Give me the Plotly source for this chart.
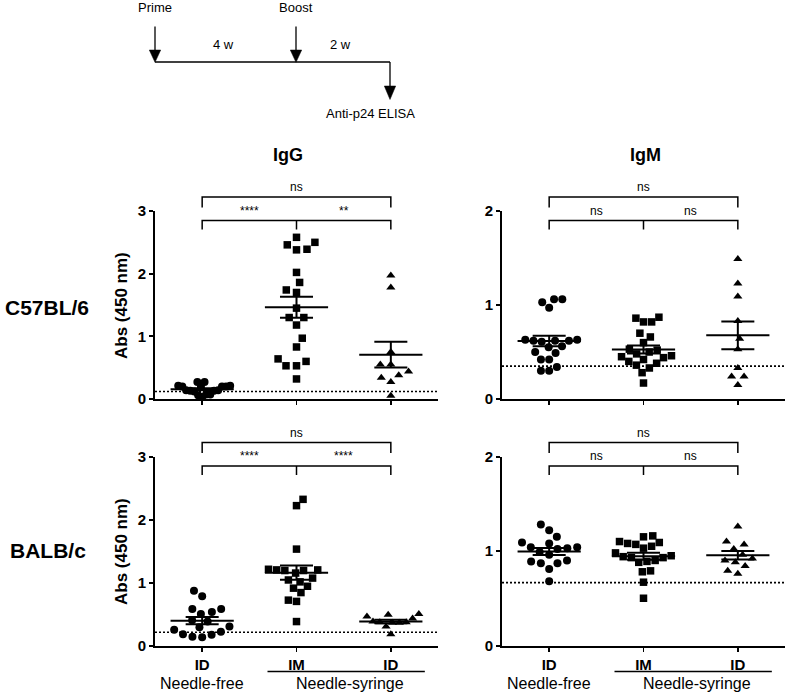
import math
import numpy as np
import plotly.graph_objects as go

W, H = 787, 693
FONT = "Liberation Sans, Arial, Helvetica, sans-serif"

# ---------------- data ----------------
categories = ["ID", "IM", "ID"]
route_groups = ["Needle-free", "Needle-syringe"]
isotypes = ["IgG", "IgM"]
strains = ["C57BL/6", "BALB/c"]
y_axis_title = "Abs (450 nm)"

# IgG, C57BL/6
igg_c57_nf_id = [0.27, 0.27, 0.21, 0.21, 0.20, 0.20, 0.20, 0.19,
                 0.14, 0.14, 0.13, 0.13, 0.12, 0.07, 0.07, 0.06, 0.03]
igg_c57_ns_im = [2.58, 2.50, 2.46, 2.39, 2.38, 2.02, 1.86, 1.74, 1.70, 1.45,
                 1.30, 1.30, 1.18, 0.97, 0.83, 0.64, 0.60, 0.53, 0.53, 0.32]
igg_c57_ns_id = [1.97, 1.78, 0.75, 0.55, 0.55, 0.44, 0.38, 0.34, 0.27, 0.05]
# IgM, C57BL/6
igm_c57_nf_id = [1.06, 1.06, 1.03, 0.97, 0.63, 0.63, 0.62, 0.62, 0.62, 0.61,
                 0.56, 0.55, 0.50, 0.49, 0.42, 0.42, 0.34, 0.30, 0.30]
igm_c57_ns_im = [0.87, 0.86, 0.82, 0.82, 0.70, 0.66, 0.60, 0.53, 0.52, 0.50,
                 0.48, 0.46, 0.45, 0.44, 0.42, 0.40, 0.38, 0.36, 0.33, 0.28, 0.17]
igm_c57_ns_id = [1.49, 1.23, 1.09, 0.83, 0.64, 0.53, 0.33, 0.24, 0.24, 0.15]
# IgG, BALB/c
igg_balb_nf_id = [0.87, 0.78, 0.58, 0.58, 0.53, 0.50, 0.40, 0.38, 0.30, 0.29,
                  0.25, 0.22, 0.18, 0.17, 0.14, 0.13]
igg_balb_ns_im = [2.32, 2.22, 1.53, 1.21, 1.20, 1.20, 1.19, 1.19, 1.15, 1.07,
                  1.04, 1.01, 0.94, 0.91, 0.84, 0.72, 0.70, 0.38]
igg_balb_ns_id = [0.50, 0.49, 0.46, 0.43, 0.38, 0.37, 0.37, 0.36, 0.36, 0.30, 0.18]
# IgM, BALB/c
igm_balb_nf_id = [1.28, 1.22, 1.15, 1.09, 1.08, 1.04, 1.04, 1.03, 1.02, 0.99,
                  0.96, 0.90, 0.89, 0.87, 0.87, 0.81, 0.68]
igm_balb_ns_im = [1.16, 1.15, 1.10, 1.09, 1.08, 1.07, 1.05, 1.03, 0.98, 0.95,
                  0.94, 0.93, 0.93, 0.90, 0.89, 0.88, 0.79, 0.78, 0.67, 0.50]
igm_balb_ns_id = [1.26, 1.10, 1.07, 1.02, 0.96, 0.92, 0.90, 0.88, 0.84, 0.79, 0.76]

# cut-off values (dotted lines)
cutoff_igg_c57 = 0.12
cutoff_igm_c57 = 0.35
cutoff_igg_balb = 0.21
cutoff_igm_balb = 0.665

# significance labels: [ID vs IM, IM vs ID, ID vs ID]
sig_igg_c57 = ["****", "**", "ns"]
sig_igm_c57 = ["ns", "ns", "ns"]
sig_igg_balb = ["****", "****", "ns"]
sig_igm_balb = ["ns", "ns", "ns"]

y_max_igg = 3
y_max_igm = 2

# timeline text
timeline_labels = ["Prime", "Boost", "Anti-p24 ELISA"]
interval_labels = ["4 w", "2 w"]

# ---------------- layout geometry (pixels) ----------------
panels = [
    dict(values=[igg_c57_nf_id, igg_c57_ns_im, igg_c57_ns_id], cutoff=cutoff_igg_c57,
         sig=sig_igg_c57, ymax=y_max_igg, xpx=(155, 438), ypx=(399, 211), bottom=False),
    dict(values=[igm_c57_nf_id, igm_c57_ns_im, igm_c57_ns_id], cutoff=cutoff_igm_c57,
         sig=sig_igm_c57, ymax=y_max_igm, xpx=(502, 785), ypx=(399, 211), bottom=False),
    dict(values=[igg_balb_nf_id, igg_balb_ns_im, igg_balb_ns_id], cutoff=cutoff_igg_balb,
         sig=sig_igg_balb, ymax=y_max_igg, xpx=(155, 438), ypx=(645.5, 456.5), bottom=True),
    dict(values=[igm_balb_nf_id, igm_balb_ns_im, igm_balb_ns_id], cutoff=cutoff_igm_balb,
         sig=sig_igm_balb, ymax=y_max_igm, xpx=(502, 785), ypx=(645.5, 456.5), bottom=True),
]
symbols = ["circle", "square", "triangle-up"]
sizes = [8, 7.5, 8]


def PX(x):
    return x / W


def PY(y):
    return 1 - y / H


def swarm(vals, ppu, ppc, D=10.5, max_half=28.0):
    """Collision-based beeswarm (ascending priority); offsets in category units."""
    n = len(vals)
    ys = [v * ppu for v in vals]
    order = sorted(range(n), key=lambda i: vals[i])
    placed = []
    xs = [0.0] * n
    last_sign = 1
    for i in order:
        y = ys[i]
        near = [(px, py) for (px, py) in placed if abs(py - y) < D]
        cands = [0.0]
        for px, py in near:
            dx = math.sqrt(D * D - (py - y) ** 2)
            cands += [px + dx, px - dx]
        cands.sort(key=lambda c: (round(abs(c), 3), c * last_sign))
        for c in cands:
            if all((c - px) ** 2 + (y - py) ** 2 >= D * D - 1e-6 for px, py in near):
                xs[i] = c
                break
        if xs[i] != 0:
            last_sign = 1 if xs[i] > 0 else -1
        placed.append((xs[i], y))
    m = max(abs(x) for x in xs)
    if m > max_half:
        xs = [x * max_half / m for x in xs]
    return [x / ppc for x in xs]


def label(x, y, text, font, **kw):
    d = dict(x=PX(x), y=PY(y), xref="paper", yref="paper", text=text, showarrow=False,
             xanchor="center", yanchor="middle", font=font, borderpad=0)
    d.update(kw)
    return d


fig = go.Figure()
shapes = []
annotations = []
layout_axes = {}
LINE = dict(color="black", width=2)

for k, pn in enumerate(panels):
    idx = k + 1
    xa = "x" if idx == 1 else f"x{idx}"
    ya = "y" if idx == 1 else f"y{idx}"
    x0, x1 = pn["xpx"]
    ybot, ytop = pn["ypx"]
    ppu = (ybot - ytop) / pn["ymax"]
    ppc = (x1 - x0) / 3.0

    for g, vals in enumerate(pn["values"]):
        offs = swarm(vals, ppu, ppc)
        fig.add_trace(go.Scatter(
            x=[g + o for o in offs], y=vals, mode="markers",
            marker=dict(symbol=symbols[g], size=sizes[g], color="black", line=dict(width=0)),
            xaxis=xa, yaxis=ya, cliponaxis=False, showlegend=False, hoverinfo="skip"))
        arr = np.array(vals)
        m = arr.mean()
        sem = arr.std(ddof=1) / np.sqrt(len(arr))
        shapes += [
            dict(type="line", xref=xa, yref=ya, x0=g - 0.335, x1=g + 0.335, y0=m, y1=m, line=LINE),
            dict(type="line", xref=xa, yref=ya, x0=g - 0.175, x1=g + 0.175, y0=m + sem, y1=m + sem, line=LINE),
            dict(type="line", xref=xa, yref=ya, x0=g - 0.175, x1=g + 0.175, y0=m - sem, y1=m - sem, line=LINE),
            dict(type="line", xref=xa, yref=ya, x0=g, x1=g, y0=m - sem, y1=m + sem, line=LINE),
        ]
    # cutoff dotted line
    shapes.append(dict(type="line", xref=xa, yref=ya, x0=-0.5, x1=2.5, y0=pn["cutoff"], y1=pn["cutoff"],
                       line=dict(color="black", width=1.6, dash="2px,2px")))

    # axes
    layout_axes["xaxis" if idx == 1 else f"xaxis{idx}"] = dict(
        domain=[PX(x0), PX(x1)], range=[-0.5, 2.5], anchor=ya,
        tickvals=[0, 1, 2], ticktext=categories, showticklabels=pn["bottom"],
        ticks="outside", ticklen=4, tickwidth=1.5, tickcolor="black",
        showline=True, linecolor="black", linewidth=2, showgrid=False, zeroline=False,
        tickfont=dict(family=FONT, size=15, color="black", weight="bold"), fixedrange=True)
    layout_axes["yaxis" if idx == 1 else f"yaxis{idx}"] = dict(
        domain=[PY(ybot), PY(ytop)], range=[0, pn["ymax"]], anchor=xa,
        tickvals=list(range(pn["ymax"] + 1)),
        ticks="outside", ticklen=4, tickwidth=2, tickcolor="black",
        showline=True, linecolor="black", linewidth=2, showgrid=False, zeroline=False,
        tickfont=dict(family=FONT, size=15, color="black", weight="bold"), fixedrange=True)

    # significance brackets (paper coords)
    cx = [x0 + (c + 0.5) * ppc for c in range(3)]
    top_line, top_tick = ytop - 14, ytop - 3.5
    low_line, low_tick = ytop + 9.5, ytop + 18.5
    BL = dict(color="black", width=1.5)
    shapes += [
        dict(type="path", xref="paper", yref="paper",
             path=f"M {PX(cx[0])} {PY(top_tick)} L {PX(cx[0])} {PY(top_line)} L {PX(cx[2])} {PY(top_line)} L {PX(cx[2])} {PY(top_tick)}",
             line=BL),
        dict(type="path", xref="paper", yref="paper",
             path=f"M {PX(cx[0])} {PY(low_tick)} L {PX(cx[0])} {PY(low_line)} L {PX(cx[2])} {PY(low_line)} L {PX(cx[2])} {PY(low_tick)}",
             line=BL),
        dict(type="line", xref="paper", yref="paper", x0=PX(cx[1]), x1=PX(cx[1]),
             y0=PY(low_line), y1=PY(low_tick), line=BL),
    ]
    lab_font = dict(family=FONT, size=12, color="black")
    annotations += [
        label((cx[0] + cx[1]) / 2, low_line - 2, pn["sig"][0], lab_font, yanchor="bottom"),
        label((cx[1] + cx[2]) / 2, low_line - 2, pn["sig"][1], lab_font, yanchor="bottom"),
        label(cx[1], top_line - 2, pn["sig"][2], lab_font, yanchor="bottom"),
    ]

    # route group labels under bottom panels
    if pn["bottom"]:
        lx0, lx1 = cx[1] - 29, cx[2] + 34
        shapes.append(dict(type="line", xref="paper", yref="paper", x0=PX(lx0), x1=PX(lx1),
                           y0=PY(671.5), y1=PY(671.5), line=dict(color="black", width=1.3)))
        gfont = dict(family=FONT, size=16, color="black")
        annotations += [
            label(cx[0], 683, route_groups[0], gfont),
            label((lx0 + lx1) / 2 + 4, 683, route_groups[1], gfont),
        ]

# headers, row labels, y-axis titles
hfont = dict(family=FONT, size=18, color="black", weight="bold")
annotations += [label(288, 155, isotypes[0], hfont), label(645, 155, isotypes[1], hfont)]
rfont = dict(family=FONT, size=21, color="black", weight="bold")
annotations += [label(47, 307, strains[0], rfont), label(48, 550, strains[1], rfont)]
tfont = dict(family=FONT, size=17, color="black", weight="bold")
annotations += [label(121, 305, y_axis_title, tfont, textangle=-90),
                label(121, 551, y_axis_title, tfont, textangle=-90)]

# timeline schematic
TL = dict(color="black", width=1.3)


def arrow(x, y_start, y_head, y_tip, half_w=5.7):
    return [
        dict(type="line", xref="paper", yref="paper", x0=PX(x), x1=PX(x), y0=PY(y_start), y1=PY(y_head + 1),
             line=TL),
        dict(type="path", xref="paper", yref="paper",
             path=f"M {PX(x - half_w)} {PY(y_head)} L {PX(x + half_w)} {PY(y_head)} L {PX(x)} {PY(y_tip)} Z",
             fillcolor="black", line=dict(color="black", width=0.5)),
    ]


shapes += arrow(155, 26.5, 50, 62.3)
shapes += arrow(296, 26.5, 50, 62.3)
shapes.append(dict(type="line", xref="paper", yref="paper", x0=PX(155), x1=PX(390), y0=PY(62), y1=PY(62),
                   line=TL))
shapes += arrow(390, 62, 86, 99.5)
sfont = dict(family=FONT, size=13, color="black")
annotations += [
    label(155, 8, timeline_labels[0], sfont),
    label(296, 8, timeline_labels[1], sfont),
    label(370, 114, timeline_labels[2], sfont),
    label(223, 44, interval_labels[0], sfont),
    label(340, 44, interval_labels[1], sfont),
]

fig.update_layout(
    width=W, height=H, autosize=False,
    margin=dict(l=0, r=0, t=0, b=0, autoexpand=False),
    paper_bgcolor="white", plot_bgcolor="white",
    showlegend=False, shapes=shapes, annotations=annotations,
    font=dict(family=FONT, color="black"),
    **layout_axes,
)

fig.write_html("out.html", config={"displayModeBar": False, "staticPlot": True},
               post_script="document.body.style.margin='0';document.body.style.overflow='hidden';")
